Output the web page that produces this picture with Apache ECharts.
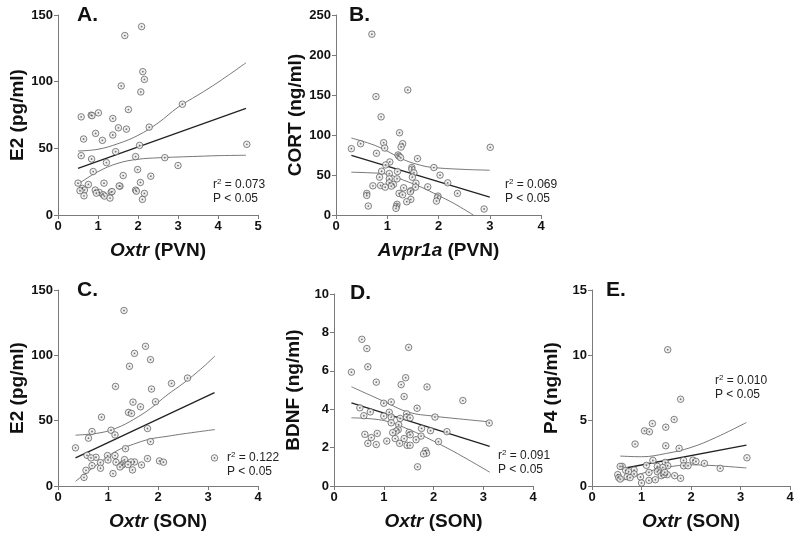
<!DOCTYPE html>
<html><head><meta charset="utf-8">
<script src="https://cdn.jsdelivr.net/npm/echarts@6/dist/echarts.min.js"></script>
<style>html,body{margin:0;padding:0;background:#fff}#c{width:800px;height:537px}</style>
</head><body><div id="c"></div>
<script>
// ---------- Panel A: E2 vs Oxtr (PVN)
const aX = [2.09,1.67,2.12,2.16,1.58,2.07,3.11,1.76,1.01,0.83,0.85,0.58,1.37,2.28,1.51,1.71,0.94,1.37,0.64,1.11,4.72,2.04,1.44,0.58,1.94,2.67,0.84,1.21,3.00,1.99,0.88,1.63,2.32,2.06,0.50,0.76,1.15,1.55,1.53,0.61,0.66,0.55,0.93,1.94,1.96,1.03,1.33,1.35,0.96,1.13,0.65,1.16,2.16,1.30,2.11];
const aY = [141.3,134.6,107.5,101.7,96.8,92.3,83.1,79.1,76.6,74.9,74.5,73.6,72.4,65.9,65.4,64.4,61.2,60.0,57.0,56.0,53.0,52.2,47.5,44.5,43.8,43.0,42.0,39.3,37.1,34.1,32.6,29.6,29.1,24.4,23.9,22.9,23.9,21.6,21.8,19.9,18.7,18.2,18.7,18.7,17.9,16.9,17.2,17.6,16.4,15.2,14.4,14.2,16.2,12.7,11.7];
const aFitX = [0.5, 4.7];
const aFitY = [35, 80];
const aBandX = [0.5,1,1.5,2,2.5,3,3.5,4,4.7];
const aUpper = [48,49.3,53.5,59.7,69,80.8,90,99.5,114.2];
const aLower = [23.1,32.5,38.8,41.8,42.9,43.5,44,44.5,44.8];

// ---------- Panel B: CORT vs Avpr1a (PVN)
const bX = [0.70,0.78,1.40,0.88,1.24,3.01,0.30,0.48,0.93,1.30,0.95,1.27,0.79,1.21,1.23,1.26,1.59,1.05,0.97,1.48,1.91,1.48,0.89,1.20,1.52,1.04,2.03,0.85,1.49,1.04,1.19,1.56,1.04,1.12,2.18,1.08,0.72,0.87,0.96,1.79,1.32,1.55,1.46,1.45,2.37,1.23,1.30,0.60,0.60,1.99,1.98,1.46,1.96,1.38,1.19,1.18,0.63,1.17,2.89];
const bY = [226,148.0,156.3,122.7,102.8,84.6,82.9,89.1,90.4,89.1,83.7,85.0,77.1,75.0,73.4,71.7,70.5,66.3,62.6,59.3,59.3,57.2,54.7,54.3,52.7,51.8,49.8,47.3,47.3,45.2,45.2,39.8,40.2,38.1,40.2,36.1,36.5,36.9,34.8,35.2,34.0,34.8,30.3,29.0,27.0,27.0,25.3,27.0,24.5,23.6,21.6,19.5,17.4,16.6,13.3,10.8,11.2,8.3,7.5];
const bFitX = [0.3, 3.0];
const bFitY = [74.6, 22.4];
const bUpperX = [0.3,0.67,0.93,1.32,1.65,1.91,2.5,3.0];
const bUpper = [96.2,89.1,82.1,69.2,62.2,59.3,57,56];
const bLowerX = [0.3,0.67,1.0,1.32,1.65,1.98,2.3,2.68];
const bLower = [53.5,52.7,51,43.5,35.2,24.9,14.5,0];

// ---------- Panel C: E2 vs Oxtr (SON)
const cX = [1.32,1.75,1.53,1.85,1.43,2.59,2.27,1.15,1.87,1.50,1.95,1.65,1.41,1.47,0.87,1.06,0.68,1.79,1.14,0.61,1.85,0.35,1.35,0.58,0.76,0.66,0.99,1.14,1.79,1.00,1.33,1.16,0.85,1.53,1.46,1.30,1.28,1.40,2.03,2.11,0.85,0.68,1.67,1.49,1.24,1.10,0.56,0.52,3.13];
const cY = [134.3,106.9,101.5,96.7,91.6,82.6,78.5,76.2,74.2,64.2,64.5,60.6,56.3,55.5,52.7,42.7,41.7,44.0,39.1,36.6,34.0,29.2,28.6,23.5,22.0,21.5,23.3,23.3,21.0,19.9,20.2,18.2,17.9,18.4,18.4,16.9,15.9,16.4,19.2,18.2,13.6,15.6,16.1,12.3,14.6,9.5,12.0,6.6,21.5];
const cFitX = [0.35, 3.13];
const cFitY = [21.5, 71.4];
const cUpperX = [0.35,0.84,1.18,1.51,1.85,2.18,2.52,2.85,3.14];
const cUpper = [38.9,40.7,44.5,50.9,59.3,69.6,79.0,89.3,99.5];
const cLowerX = [0.35,0.84,1.18,1.51,1.85,2.18,2.52,3.14];
const cLower = [3.6,18,27,32,36,38,40,43.2];

// ---------- Panel D: BDNF vs Oxtr (SON)
const dX = [0.56,0.66,1.50,0.68,0.35,0.85,1.44,1.35,1.87,1.41,2.59,1.00,1.15,1.67,0.52,0.73,1.11,1.46,0.60,1.00,1.15,1.46,1.53,2.03,1.33,3.12,1.15,1.30,1.76,1.29,1.25,1.18,0.87,0.62,1.94,2.27,1.51,1.53,1.75,1.23,0.75,1.41,1.65,1.06,0.68,1.32,2.10,0.85,1.47,1.53,1.84,1.86,1.80,1.68];
const dY = [7.64,7.16,7.22,6.21,5.93,5.41,5.64,5.28,5.16,4.66,4.45,4.31,4.38,4.05,4.07,3.86,3.84,3.76,3.66,3.64,3.59,3.59,3.55,3.59,3.52,3.28,3.29,3.19,3.00,2.93,2.86,2.78,2.74,2.69,2.88,2.83,2.79,2.67,2.60,2.47,2.52,2.47,2.41,2.34,2.22,2.22,2.31,2.16,2.12,2.12,1.84,1.71,1.67,1.00];
const dFitX = [0.35, 3.13];
const dFitY = [4.33, 2.06];
const dBandX = [0.35,1,1.5,2,2.5,3.13];
const dUpper = [5.17,4.41,3.84,3.64,3.5,3.34];
const dLower = [3.55,3.41,2.95,2.34,1.66,0.72];

// ---------- Panel E: P4 vs Oxtr (SON)
const eX = [1.53,1.79,1.66,1.22,1.49,1.06,1.16,0.87,1.49,1.76,3.13,1.23,1.85,2.04,2.10,2.27,1.48,1.10,1.85,1.94,2.59,0.61,0.57,1.32,1.53,1.43,1.34,1.32,0.68,0.85,0.74,1.15,0.52,0.85,0.54,0.71,0.77,0.98,1.52,1.40,1.45,1.67,1.79,1.15,1.28,1.00,0.57,1.47];
const eY = [10.43,6.64,5.09,4.78,4.50,4.22,4.15,3.21,3.08,2.88,2.16,1.96,1.96,1.98,1.88,1.73,1.81,1.58,1.55,1.55,1.35,1.50,1.50,1.50,1.55,1.42,1.20,1.09,1.20,1.22,1.09,1.04,0.87,0.92,0.64,0.71,0.64,0.69,0.87,0.79,0.89,0.79,0.59,0.43,0.48,0.23,0.53,1.04];
const eFitX = [0.57, 3.12];
const eFitY = [1.30, 3.13];
const eBandX = [0.57,1,1.5,2,2.5,3.12];
const eUpper = [2.29,2.24,2.49,2.95,3.71,4.86];
const eLower = [0.35,0.95,1.42,1.62,1.55,1.38];

// ---------- Axis labels / ticks
const xNames = ['{i|Oxtr} (PVN)','{i|Avpr1a} (PVN)','{i|Oxtr} (SON)','{i|Oxtr} (SON)','{i|Oxtr} (SON)'];
const yNames = ['E2 (pg/ml)','CORT (ng/ml)','E2 (pg/ml)','BDNF (ng/ml)','P4 (ng/ml)'];
const xMax = [5,4,4,4,4];
const yMax = [150,250,150,10,15];
const yStep = [50,50,50,2,5];
const letters = ['A.','B.','C.','D.','E.'];
const r2 = ['0.073','0.069','0.122','0.091','0.010'];
const pTxt = ['P < 0.05','P < 0.05','P < 0.05','P < 0.05','P < 0.05'];

const FONT = "'Liberation Sans', Arial, sans-serif";
const zip = (xs, ys) => xs.map((x, i) => [x, ys[i]]);

const grids = [
  {left:58, top:15, width:200, height:200},
  {left:336, top:15, width:205, height:200},
  {left:58, top:290, width:200, height:196},
  {left:334, top:294, width:199, height:192},
  {left:592, top:290, width:198, height:196}
];
const letterPos = [[77,5],[349,5],[77,280],[350,283],[606,280]];
const statPos = [[213,178],[505,178],[227,451],[498,449],[715,374]];

const panels = [
  {pts: zip(aX,aY), fit: zip(aFitX,aFitY), up: zip(aBandX,aUpper), lo: zip(aBandX,aLower)},
  {pts: zip(bX,bY), fit: zip(bFitX,bFitY), up: zip(bUpperX,bUpper), lo: zip(bLowerX,bLower)},
  {pts: zip(cX,cY), fit: zip(cFitX,cFitY), up: zip(cUpperX,cUpper), lo: zip(cLowerX,cLower)},
  {pts: zip(dX,dY), fit: zip(dFitX,dFitY), up: zip(dBandX,dUpper), lo: zip(dBandX,dLower)},
  {pts: zip(eX,eY), fit: zip(eFitX,eFitY), up: zip(eBandX,eUpper), lo: zip(eBandX,eLower)}
];

const axisColor = '#7a7a7a';
const xAxis = [], yAxis = [], series = [], titles = [];
panels.forEach((p, k) => {
  xAxis.push({
    type:'value', gridIndex:k, min:0, max:xMax[k], interval:1,
    axisLine:{show:true, onZero:false, lineStyle:{color:axisColor, width:1}},
    axisTick:{show:true, length:4, lineStyle:{color:axisColor}},
    splitLine:{show:false},
    axisLabel:{color:'#111', fontFamily:FONT, fontWeight:'bold', fontSize:13, margin:5},
    name:xNames[k], nameLocation:'middle', nameGap:26,
    nameTextStyle:{color:'#111', fontFamily:FONT, fontWeight:'bold', fontSize:19,
      rich:{i:{fontStyle:'italic', fontWeight:'bold', fontSize:19, fontFamily:FONT, color:'#111'}}}
  });
  yAxis.push({
    type:'value', gridIndex:k, min:0, max:yMax[k], interval:yStep[k],
    axisLine:{show:true, onZero:false, lineStyle:{color:axisColor, width:1}},
    axisTick:{show:true, length:4, lineStyle:{color:axisColor}},
    splitLine:{show:false},
    axisLabel:{color:'#111', fontFamily:FONT, fontWeight:'bold', fontSize:13, margin:5},
    name:yNames[k], nameLocation:'middle', nameGap:31, nameRotate:90,
    nameTextStyle:{color:'#111', fontFamily:FONT, fontWeight:'bold', fontSize:19}
  });
  series.push({type:'scatter', xAxisIndex:k, yAxisIndex:k, data:p.pts, symbol:'circle', symbolSize:6.5,
    itemStyle:{color:'#eeeeee', borderColor:'#555', borderWidth:0.9}, silent:true, z:3});
  series.push({type:'scatter', xAxisIndex:k, yAxisIndex:k, data:p.pts, symbol:'circle', symbolSize:1.8,
    itemStyle:{color:'#555'}, silent:true, z:4});
  series.push({type:'line', xAxisIndex:k, yAxisIndex:k, data:p.fit, showSymbol:false,
    lineStyle:{color:'#222', width:1.3}, silent:true, z:2});
  series.push({type:'line', xAxisIndex:k, yAxisIndex:k, data:p.up, showSymbol:false, smooth:0.4,
    lineStyle:{color:'#555', width:0.8}, silent:true, z:2});
  series.push({type:'line', xAxisIndex:k, yAxisIndex:k, data:p.lo, showSymbol:false, smooth:0.4,
    lineStyle:{color:'#555', width:0.8}, silent:true, z:2});
  titles.push({text:letters[k], left:letterPos[k][0], top:letterPos[k][1], padding:0,
    textStyle:{fontFamily:FONT, fontWeight:'bold', fontSize:21, color:'#111'}});
  titles.push({text:'{t|r}{s|2}{t| = ' + r2[k] + '}\n{t|' + pTxt[k] + '}', left:statPos[k][0], top:statPos[k][1], padding:0,
    textStyle:{fontWeight:'normal', rich:{
      t:{fontFamily:FONT, fontSize:12, fontWeight:'normal', color:'#222', lineHeight:14},
      s:{fontFamily:FONT, fontSize:8, fontWeight:'normal', color:'#222', lineHeight:14, verticalAlign:'top'}}}});
});

const chart = echarts.init(document.getElementById('c'), null, {renderer:'canvas'});
chart.setOption({
  animation:false, backgroundColor:'#fff',
  title:titles, grid:grids, xAxis:xAxis, yAxis:yAxis, series:series
});
</script></body></html>
